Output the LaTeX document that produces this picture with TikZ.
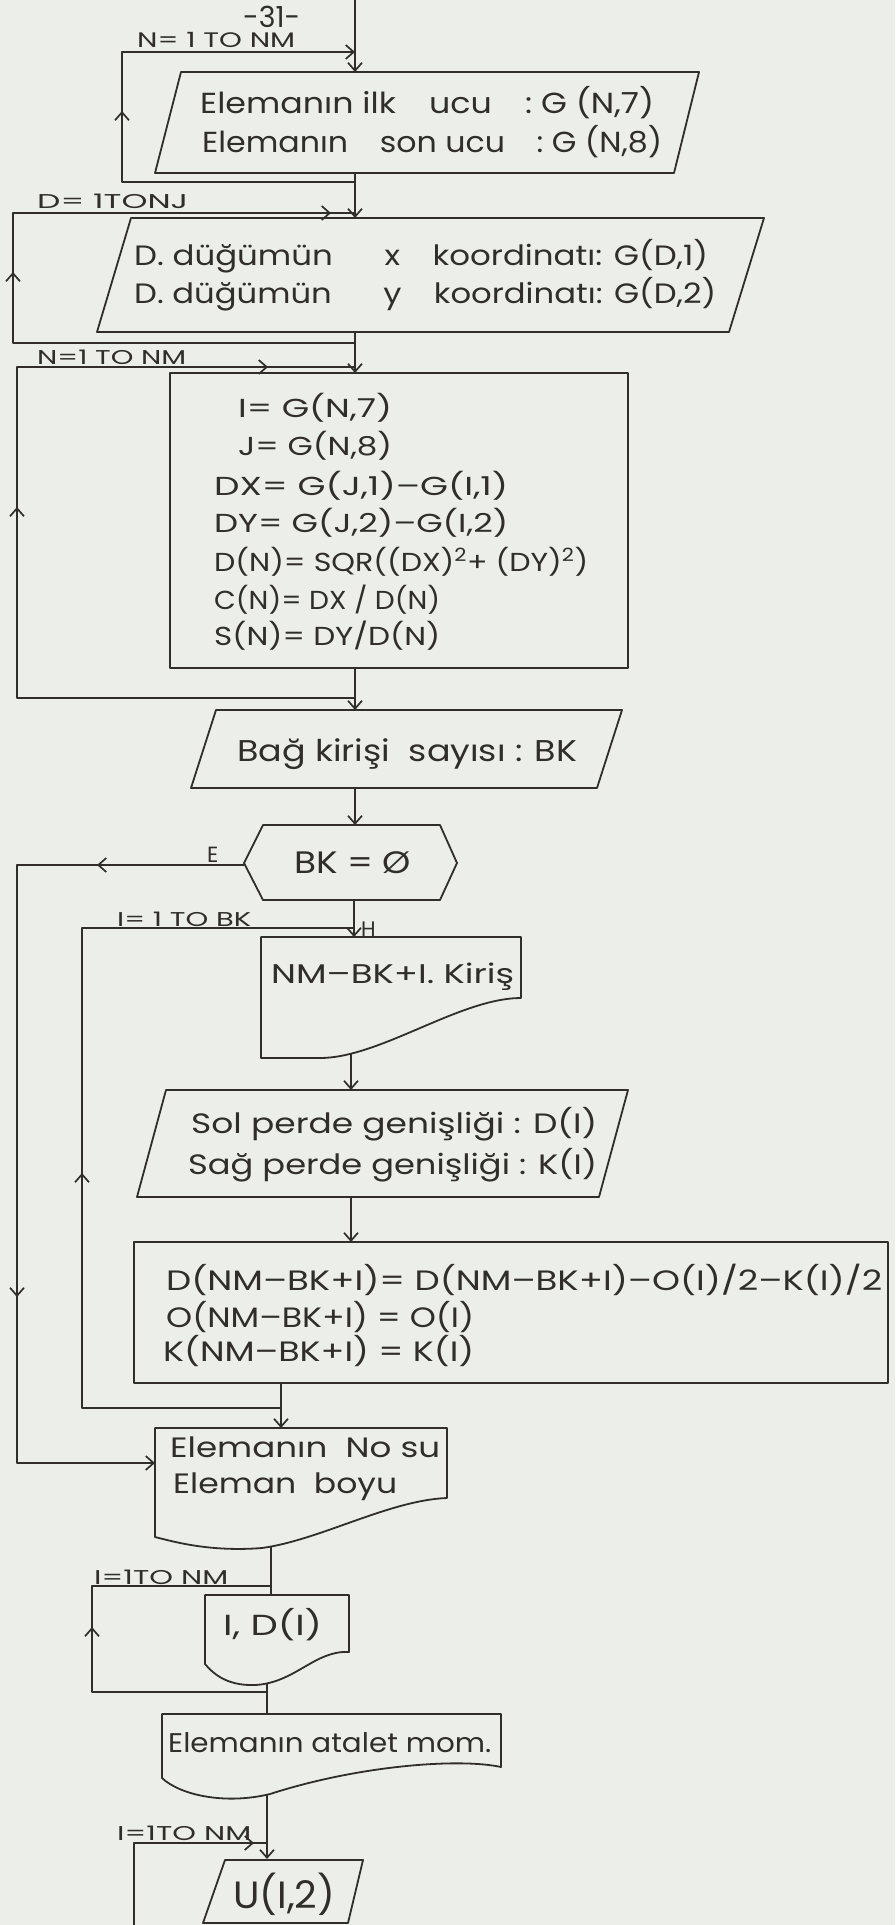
\documentclass[tikz,border=0pt]{standalone}
\usepackage{graphicx}
\usepackage{fontspec}
\setmainfont{Poppins}
\usetikzlibrary{arrows.meta,decorations.markings}

\definecolor{paper}{RGB}{236,239,233}
\definecolor{ink}{RGB}{48,45,42}

% one line of lettering: target width (pt), font size (pt), text
\newcommand{\fitxt}[3]{\resizebox{#1pt}{\height}{\fontsize{#2}{#2}\selectfont #3}}
% open chevron used along the flow lines
\newcommand{\chev}{\arrow{Straight Barb[length=8pt,width=14pt]}}

\tikzset{
  flow/.style={draw=ink, line width=1.7pt, line join=round, line cap=round},
  outline/.style={draw=ink, line width=1.8pt, line join=round},
  arr/.style={-{Straight Barb[length=8pt,width=14pt]}},
  midtips/.style={postaction={decorate}, decoration={markings, #1}},
  txt/.style={anchor=base west, inner sep=0pt, text=ink},
}

\begin{document}
\begin{tikzpicture}[x=1pt,y=-1pt]
\useasboundingbox (0,0) rectangle (895,1925);
\clip (0,0) rectangle (895,1925);
\fill[paper] (0,0) rectangle (895,1925);

% ---------- connection points ----------
\coordinate (top) at (355,-4);
\coordinate (p1t) at (355,72);   \coordinate (p1b) at (355,173);
\coordinate (p2t) at (355,218);  \coordinate (p2b) at (355,332);
\coordinate (r3t) at (355,373);  \coordinate (r3b) at (355,668);
\coordinate (p4t) at (355,710);  \coordinate (p4b) at (355,788);
\coordinate (hxt) at (355,825);  \coordinate (hxb) at (354,900);
\coordinate (hxw) at (244,865);
\coordinate (d1t) at (354,937);  \coordinate (d1b) at (351,1054);
\coordinate (p5t) at (351,1090); \coordinate (p5b) at (351,1197);
\coordinate (r6t) at (351,1242); \coordinate (r6b) at (281,1383);
\coordinate (b7t) at (281,1428); \coordinate (b7b) at (271,1547);
\coordinate (b7w) at (155,1463);
\coordinate (b8t) at (271,1595); \coordinate (b8b) at (267,1684);
\coordinate (b9t) at (267,1714); \coordinate (b9b) at (267,1795);
\coordinate (put) at (267,1859);

% loop junctions and corners
\coordinate (j1t) at (355,52);   \coordinate (j1b) at (355,182);
\coordinate (l1a) at (122,182);  \coordinate (l1b) at (122,52);
\coordinate (j2t) at (355,213);  \coordinate (j2b) at (355,343);
\coordinate (l2a) at (13,343);   \coordinate (l2b) at (13,213);
\coordinate (j3t) at (355,367);  \coordinate (j3b) at (355,698);
\coordinate (l3a) at (17,698);   \coordinate (l3b) at (17,367);
\coordinate (j4t) at (354,928);  \coordinate (j4b) at (281,1408);
\coordinate (l4a) at (82,1408);  \coordinate (l4b) at (82,928);
\coordinate (j5t) at (271,1586); \coordinate (j5b) at (267,1692);
\coordinate (l5a) at (92,1692);  \coordinate (l5b) at (92,1586);
\coordinate (j6t) at (267,1843);
\coordinate (l6a) at (134,1935); \coordinate (l6b) at (134,1843);
\coordinate (ea) at (17,865);    \coordinate (eb) at (17,1463);

% ---------- boxes ----------
\draw[outline] (181,72) -- (699,72) -- (674,173) -- (155,173) -- cycle;
\draw[outline] (131,218) -- (764,218) -- (729,332) -- (97,332) -- cycle;
\draw[outline] (170,373) rectangle (628,668);
\draw[outline] (216,710) -- (622,710) -- (597,788) -- (191,788) -- cycle;
\draw[outline] (263,825) -- (440,825) -- (457,863) -- (440,900) -- (263,900) -- (244,863) -- cycle;
\draw[outline] (261,1058) -- (261,937) -- (521,937) -- (521,998)
  .. controls (460,998) and (380,1058) .. (320,1058) -- cycle;
\draw[outline] (166,1090) -- (628,1090) -- (599,1197) -- (137,1197) -- cycle;
\draw[outline] (134,1242) rectangle (888,1383);
\draw[outline] (155,1537) -- (155,1428) -- (447,1428) -- (447,1498)
  .. controls (390,1500) and (320,1540) .. (262,1548)
  .. controls (210,1552) and (175,1542) .. (155,1537) -- cycle;
\draw[outline] (205,1664) -- (205,1595) -- (349,1595) -- (349,1652)
  .. controls (315,1650) and (295,1683) .. (255,1685)
  .. controls (225,1686) and (212,1672) .. (205,1664) -- cycle;
\draw[outline] (162,1778) -- (162,1714) -- (501,1714) -- (501,1767)
  .. controls (460,1758) and (360,1765) .. (270,1794)
  .. controls (225,1805) and (180,1795) .. (162,1778) -- cycle;
\draw[outline] (225,1860) -- (363,1860) -- (348,1923) -- (203,1923) -- cycle;

% ---------- main flow ----------
\draw[flow, arr] (top) -- (p1t);
\draw[flow, arr] (p1b) -- (p2t);
\draw[flow, arr] (p2b) -- (r3t);
\draw[flow, arr] (r3b) -- (p4t);
\draw[flow, arr] (p4b) -- (hxt);
\draw[flow, arr] (hxb) -- (d1t);
\draw[flow, arr] (d1b) -- (p5t);
\draw[flow, arr] (p5b) -- (r6t);
\draw[flow, arr] (r6b) -- (b7t);
\draw[flow] (b7b) -- (b8t);
\draw[flow] (b8b) -- (b9t);
\draw[flow, arr] (b9b) -- (put);

% ---------- loops ----------
\draw[flow, arr, midtips={mark=at position 304pt with {\chev}}]
  (j1b) -- (l1a) -- (l1b) -- (j1t);
\draw[flow, midtips={mark=at position 413pt with {\chev}, mark=at position 790pt with {\chev}}]
  (j2b) -- (l2a) -- (l2b) -- (j2t);
\draw[flow, midtips={mark=at position 529pt with {\chev}, mark=at position 920pt with {\chev}}]
  (j3b) -- (l3a) -- (l3b) -- (j3t);
\draw[flow, midtips={mark=at position 434pt with {\chev}}]
  (j4b) -- (l4a) -- (l4b) -- (j4t);
\draw[flow, midtips={mark=at position 240pt with {\chev}}]
  (j5b) -- (l5a) -- (l5b) -- (j5t);
\draw[flow, midtips={mark=at position 212pt with {\chev}}]
  (l6a) -- (l6b) -- (j6t);
% "E" branch of the decision
\draw[flow, arr, midtips={mark=at position 147pt with {\chev}, mark=at position 659pt with {\chev}}]
  (hxw) -- (ea) -- (eb) -- (b7w);

% ---------- loop labels ----------
\node[txt] (pg)   at (243,27)   {\fitxt{57}{29}{-31-}};
\node[txt] (lab1) at (137,47)   {\fitxt{158}{21}{N= 1 TO NM}};
\node[txt] (lab2) at (37,208)   {\fitxt{151}{20}{D= 1TONJ}};
\node[txt] (lab3) at (37,364)   {\fitxt{149}{20}{N=1 TO NM}};
\node[txt] (lab4) at (117,926)  {\fitxt{134}{20}{I= 1 TO BK}};
\node[txt] (lab5) at (94,1584)  {\fitxt{134}{20}{I=1TO NM}};
\node[txt] (lab6) at (117,1840) {\fitxt{134}{20}{I=1TO NM}};
\node[txt] (labE) at (207,862)  {\fontsize{22}{22}\selectfont E};
\node[txt] (labH) at (361,936)  {\fontsize{21}{21}\selectfont H};

% ---------- box texts ----------
\node[txt] (t1a) at (200,113) {\fitxt{454}{29}{Elemanın ilk\quad ucu\quad :\ G (N,7)}};
\node[txt] (t1b) at (202,152) {\fitxt{460}{29}{Elemanın\quad son ucu\quad :\ G (N,8)}};

\node[txt] (t2a) at (134,265) {\fitxt{574}{28}{D. düğümün\hspace{1.6em}x\hspace{1em}koordinatı: G(D,1)}};
\node[txt] (t2b) at (134,303) {\fitxt{582}{28}{D. düğümün\hspace{1.6em}y\hspace{1em}koordinatı: G(D,2)}};

\node[txt] (t3a) at (238,417) {\fitxt{154}{26}{I= G(N,7)}};
\node[txt] (t3b) at (238,455) {\fitxt{154}{26}{J= G(N,8)}};
\node[txt] (t3c) at (214,495) {\fitxt{294}{26}{DX= G(J,1)–G(I,1)}};
\node[txt] (t3d) at (214,532) {\fitxt{294}{26}{DY= G(J,2)–G(I,2)}};
\node[txt] (t3e) at (214,571) {\fitxt{374}{26}{D(N)= SQR((DX)\textsuperscript{2}+ (DY)\textsuperscript{2})}};
\node[txt] (t3f) at (214,609) {\fitxt{226}{26}{C(N)= DX / D(N)}};
\node[txt] (t3g) at (214,645) {\fitxt{226}{26}{S(N)= DY/D(N)}};

\node[txt] (t4) at (237,761) {\fitxt{340}{30}{Bağ kirişi\ \ sayısı : BK}};
\node[txt] (t5) at (294,873) {\fitxt{117}{31}{BK = Ø}};
\node[txt] (t6) at (271,983) {\fitxt{243}{27}{NM–BK+I. Kiriş}};

\node[txt] (t7a) at (191,1133) {\fitxt{406}{28}{Sol perde genişliği : D(I)}};
\node[txt] (t7b) at (188,1174) {\fitxt{409}{28}{Sağ perde genişliği : K(I)}};

\node[txt] (t8a) at (166,1290) {\fitxt{716}{28}{D(NM–BK+I)= D(NM–BK+I)–O(I)/2–K(I)/2}};
\node[txt] (t8b) at (166,1327) {\fitxt{308}{28}{O(NM–BK+I) = O(I)}};
\node[txt] (t8c) at (163,1361) {\fitxt{311}{28}{K(NM–BK+I) = K(I)}};

\node[txt] (t9a) at (170,1457) {\fitxt{270}{28}{Elemanın\ \ No su}};
\node[txt] (t9b) at (173,1493) {\fitxt{224}{28}{Eleman\ \ boyu}};

\node[txt] (t10) at (223,1635) {\fitxt{99}{29}{I, D(I)}};
\node[txt] (t11) at (168,1752) {\fitxt{323}{27}{Elemanın atalet mom.}};
\node[txt] (t12) at (233,1908) {\fitxt{102}{38}{U(I,2)}};
\end{tikzpicture}
\end{document}
